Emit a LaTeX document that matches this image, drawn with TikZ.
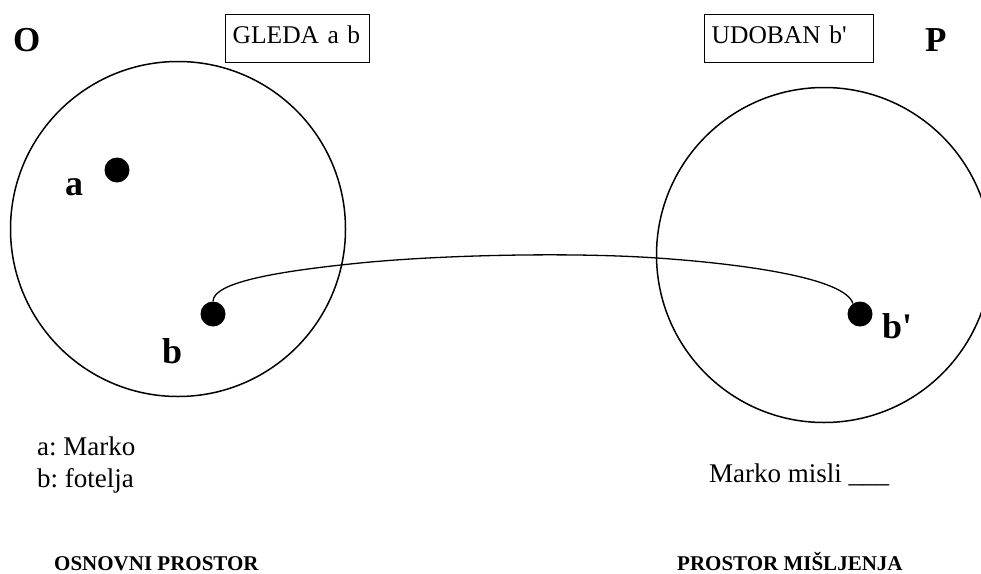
\documentclass[tikz,border=0pt]{standalone}
\usepackage{fontspec}
\setmainfont{Liberation Serif}[Ligatures=TeXOff]
\newcommand{\fsz}[1]{\fontsize{#1}{1.15\dimexpr#1pt\relax}\selectfont}
\frenchspacing
\begin{document}
\begin{tikzpicture}[x=1pt,y=-1pt,
  space/.style={circle,draw,line width=1.5pt,inner sep=0pt,minimum size=335pt},
  dot/.style={circle,fill=black,inner sep=0pt,minimum size=25pt},
  tag/.style={draw,line width=1.4pt,anchor=north west,inner xsep=7pt,inner ysep=0pt,
    minimum height=48pt,text height=17pt,text depth=8pt,align=left,font=\fsz{25.5}},
  biglabel/.style={anchor=base west,inner sep=0pt,font=\fsz{35}\bfseries},
  ptlabel/.style={anchor=base west,inner sep=0pt,font=\fsz{36}\bfseries},
  note/.style={anchor=base west,inner sep=0pt,font=\fsz{27}},
  title/.style={anchor=base west,inner sep=0pt,font=\fsz{21}\bfseries},
  conn/.style={line width=1.3pt}]
\useasboundingbox (0,0) rectangle (981,573);
\clip (0,0) rectangle (981,573);

% the two spaces
\node[space] (Ospace) at (178,229) {};
\node[space] (Pspace) at (824,255) {};

% space names
\node[biglabel] (Olab) at (13,51) {O};
\node[biglabel] (Plab) at (925,51) {P};

% relation boxes
\node[tag,text width=130pt] (gleda) at (225,14) {GLEDA a b};
\node[tag,text width=155pt] (udoban) at (704,14) {UDOBAN b'};

% points
\node[dot] (a) at (117,170) {};
\node[dot] (b) at (213,314) {};
\node[dot] (bp) at (860,314) {};
\node[ptlabel] (alab) at (65,195) {a};
\node[ptlabel] (blab) at (162,363) {b};
\node[ptlabel] (bplab) at (882,338) {b'};

% connector from b to its counterpart b'
\coordinate (m1) at (360,263);
\coordinate (m2) at (657,258);
\draw[conn] (b.north) .. controls (213,282) and (280,271) .. (m1)
  .. controls (440,255) and (570,252) .. (m2)
  .. controls (744,264) and (845,278) .. (bp.124);

% legends
\node[note] (la) at (37,455) {a: Marko};
\node[note] (lb) at (37,487) {b: fotelja};
\node[note] (lm) at (709,482) {Marko misli \_\_\_};

% captions
\node[title] (t1) at (54,570) {OSNOVNI PROSTOR};
\node[title] (t2) at (677,570) {PROSTOR MIŠLJENJA};
\end{tikzpicture}
\end{document}
